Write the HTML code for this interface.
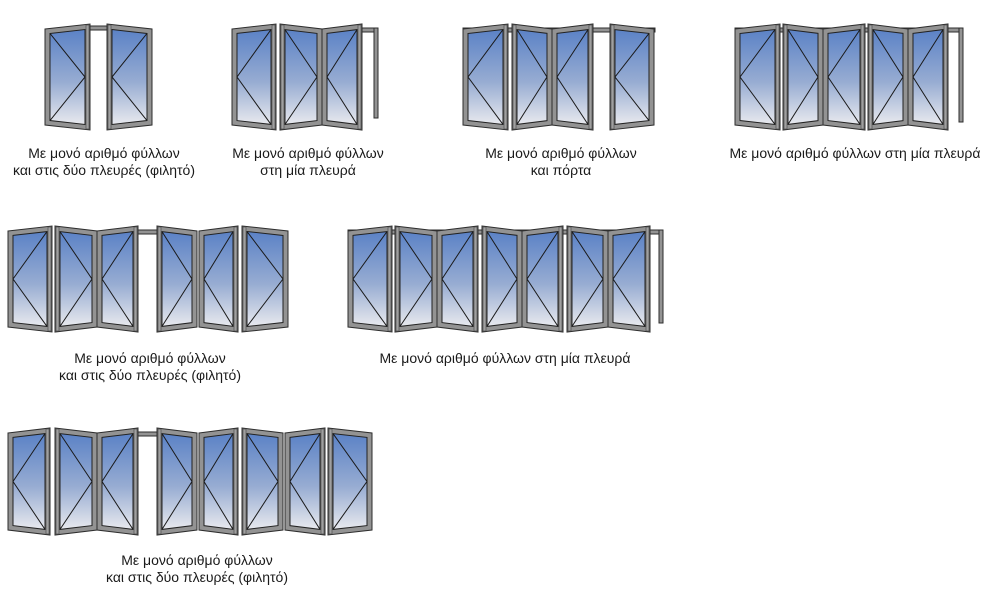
<!DOCTYPE html>
<html><head><meta charset="utf-8">
<style>
html,body{margin:0;padding:0;background:#fff;}
body{width:996px;height:610px;position:relative;overflow:hidden;font-family:"Liberation Sans",sans-serif;}
svg{position:absolute;left:0;top:0;}
.t{position:absolute;font-size:14px;color:#1a1a1a;text-align:center;line-height:17px;white-space:nowrap;transform:translateX(-50%);}
</style></head>
<body>
<svg id="s" width="996" height="610" viewBox="0 0 996 610" xmlns="http://www.w3.org/2000/svg">
<defs>
<linearGradient id="g" x1="0" y1="0" x2="0" y2="1">
<stop offset="0" stop-color="#5b82c6"/>
<stop offset="0.55" stop-color="#97acd2"/>
<stop offset="1" stop-color="#e8e9ee"/>
</linearGradient>
</defs>
</svg>
<div class="t" style="left:104px;top:145px">Με μονό αριθμό φύλλων<br>και στις δύο πλευρές (φιλητό)</div>
<div class="t" style="left:308px;top:145px">Με μονό αριθμό φύλλων<br>στη μία πλευρά</div>
<div class="t" style="left:561px;top:145px">Με μονό αριθμό φύλλων<br>και πόρτα</div>
<div class="t" style="left:855px;top:145px">Με μονό αριθμό φύλλων στη μία πλευρά</div>
<div class="t" style="left:150px;top:350px">Με μονό αριθμό φύλλων<br>και στις δύο πλευρές (φιλητό)</div>
<div class="t" style="left:505px;top:350px">Με μονό αριθμό φύλλων στη μία πλευρά</div>
<div class="t" style="left:197px;top:552px">Με μονό αριθμό φύλλων<br>και στις δύο πλευρές (φιλητό)</div>
<script>
var s=document.getElementById('s'),NS='http://www.w3.org/2000/svg';
function el(n,a){var e=document.createElementNS(NS,n);for(var k in a)e.setAttribute(k,a[k]);s.appendChild(e);return e;}
function pts(a){return a.map(function(p){return p[0]+','+p[1]}).join(' ');}
function panel(x0,x1,yt,yb,tall,arrow){
  var d=5;
  var lt=tall=='L'?yt:yt+d, rt=tall=='R'?yt:yt+d;
  var lb=tall=='L'?yb:yb-d, rb=tall=='R'?yb:yb-d;
  el('polygon',{points:pts([[x0,lt],[x1,rt],[x1,rb],[x0,lb]]),fill:'#939393',stroke:'#2e2e2e','stroke-width':1});
  var f=5,ix0=x0+f,ix1=x1-f;
  var k=(rt-lt)/(x1-x0);
  var gt0=lt+k*f+f, gt1=rt-k*f+f, gb0=lb-k*f-f, gb1=rb+k*f-f;
  el('polygon',{points:pts([[ix0,gt0],[ix1,gt1],[ix1,gb1],[ix0,gb0]]),fill:'url(#g)',stroke:'#222','stroke-width':1});
  var sx=tall=='L'?x0+1:x1-4;
  el('rect',{x:sx,y:(tall=='L'?lt:rt)+1,width:3,height:(yb-yt)-2,fill:'#a0a0a0',stroke:'#444','stroke-width':0.6});
  var my=(yt+yb)/2;
  if(arrow=='R'){el('polyline',{points:pts([[ix0,gt0],[ix1,my],[ix0,gb0]]),fill:'none',stroke:'#1a1a1a','stroke-width':1});}
  else{el('polyline',{points:pts([[ix1,gt1],[ix0,my],[ix1,gb1]]),fill:'none',stroke:'#1a1a1a','stroke-width':1});}
}
function track(x0,x1,y){el('rect',{x:x0,y:y,width:x1-x0,height:4,fill:'#939393',stroke:'#2e2e2e','stroke-width':1});}
function post(x,y0,y1){el('rect',{x:x,y:y0,width:4,height:y1-y0,fill:'#939393',stroke:'#2e2e2e','stroke-width':1});}
var T1=24,B1=130,T2=226,B2=332,T3=428,B3=535;
track(88,108,T1+2);
panel(45,90,T1,B1,'R','R');panel(107,152,T1,B1,'L','L');
track(360,378,T1+4);post(374,T1+4,118);
panel(232,276,T1,B1,'R','L');panel(280,322,T1,B1,'L','R');panel(322,362,T1,B1,'R','L');
track(463,655,T1+4);
panel(463,508,T1,B1,'R','L');panel(512,552,T1,B1,'L','R');panel(552,593,T1,B1,'R','L');panel(610,654,T1,B1,'L','L');
track(735,962,T1+4);post(959,T1+4,122);
panel(735,780,T1,B1,'R','L');panel(783,823,T1,B1,'L','R');panel(823,865,T1,B1,'R','L');panel(868,908,T1,B1,'L','R');panel(908,948,T1,B1,'R','L');
track(136,158,T2+4);
panel(8,52,T2,B2,'R','L');panel(55,97,T2,B2,'L','R');panel(97,138,T2,B2,'R','L');panel(157,197,T2,B2,'L','R');panel(199,238,T2,B2,'R','L');panel(242,288,T2,B2,'L','R');
track(348,663,T2+4);post(659,T2+4,323);
panel(348,392,T2,B2,'R','L');panel(395,437,T2,B2,'L','R');panel(437,478,T2,B2,'R','L');panel(482,522,T2,B2,'L','R');panel(522,563,T2,B2,'R','L');panel(567,608,T2,B2,'L','R');panel(608,650,T2,B2,'R','L');
track(136,158,T3+4);
panel(8,50,T3,B3,'R','L');panel(55,97,T3,B3,'L','R');panel(97,138,T3,B3,'R','L');panel(157,197,T3,B3,'L','R');panel(199,238,T3,B3,'R','L');panel(242,283,T3,B3,'L','R');panel(285,325,T3,B3,'R','L');panel(328,372,T3,B3,'L','R');
</script>
</body></html>
